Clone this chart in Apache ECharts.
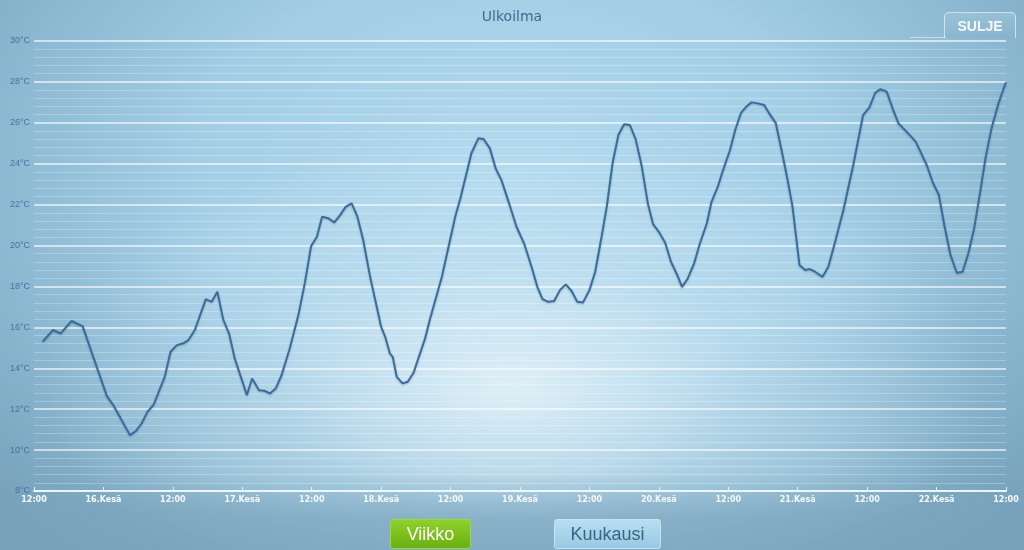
<!DOCTYPE html>
<html><head><meta charset="utf-8">
<script src="https://cdn.jsdelivr.net/npm/echarts@6/dist/echarts.min.js"></script>
<style>
html,body{margin:0;padding:0;width:1024px;height:550px;overflow:hidden;font-family:"Liberation Sans",Arial,sans-serif;}
body{background:
 linear-gradient(to bottom, rgba(122,164,189,0) 86%, rgba(122,164,189,0.65) 94%, rgba(122,164,189,0.75) 100%),
 radial-gradient(ellipse 470px 250px at 50% 70%, rgba(228,242,249,0.9) 0%, rgba(205,231,244,0.45) 50%, rgba(200,228,242,0) 100%),
 radial-gradient(ellipse 700px 470px at 50% 33%, #b3daef 0%, #a3cee6 45%, #8bb7d0 75%, #77a1ba 100%);}
#chart{position:absolute;left:0;top:0;width:1024px;height:550px;}
.btn{position:absolute;box-sizing:border-box;text-align:center;font-size:18px;line-height:28px;border-radius:3px;}
#viikko{left:390px;top:519px;width:81px;height:30px;background:linear-gradient(#8fd12a,#69b010);color:#fff;border:1px solid #9bd54a;}
#kuukausi{left:554px;top:519px;width:107px;height:30px;background:linear-gradient(#b9def0,#98c9e3);color:#3a6487;border:1px solid #c6e3f2;}
#sulje{position:absolute;left:944px;top:12px;width:72px;height:26px;box-sizing:border-box;border:1px solid rgba(235,245,250,0.7);border-bottom:none;border-radius:5px 5px 0 0;color:#f4f9fc;font-weight:bold;font-size:14px;text-align:center;line-height:26px;background:linear-gradient(rgba(160,200,222,0.6),rgba(130,175,200,0.3));}
#tabline{position:absolute;left:910px;top:37px;width:36px;height:1px;background:rgba(235,245,250,0.6);}
</style></head>
<body>
<div id="chart"></div>
<div id="sulje">SULJE</div>
<div id="tabline"></div>
<div id="viikko" class="btn">Viikko</div>
<div id="kuukausi" class="btn">Kuukausi</div>
<script>
// hours after 15.6. 12:00
const hours = [1.5,3.3,4.6,6.5,8.4,12.6,13.7,16.6,17.6,18.6,19.6,20.7,22.6,23.6,24.7,25.8,26.7,27.8,29.7,30.7,31.7,32.7,
33.7,34.7,36.8,37.7,38.9,39.8,40.8,41.8,42.8,44.2,45.7,46.8,47.9,48.9,49.8,50.9,51.9,52.9,53.9,54.9,55.9,56.9,58.1,60.0,60.7,61.5,62.0,62.7,63.7,64.6,65.6,67.6,
68.4,70.5,72.8,73.7,75.6,76.8,77.7,78.8,79.8,80.8,82.3,83.4,84.7,86.0,87.0,87.9,88.9,89.9,90.9,91.9,92.9,93.9,94.9,96.0,97.0,98.1,99.0,100.0,101.0,
102.0,103.0,104.0,105.0,106.1,107.0,108.1,109.1,110.1,111.1,112.0,113.0,114.1,115.1,116.3,117.1,118.2,119.1,120.3,121.2,122.2,123.0,124.0,125.1,126.2,127.2,128.2,129.2,130.2,131.1,132.3,133.3,134.1,135.0,
136.3,137.3,138.4,139.9,141.6,143.3,144.4,145.4,146.3,147.4,148.4,149.4,150.8,152.4,154.3,155.3,156.4,157.4,158.4,159.5,160.5,161.5,162.5,163.5,164.5,165.5,166.7,167.4,168.0];
const temps = [15.30,15.87,15.71,16.31,16.06,12.64,12.20,10.73,10.93,11.30,11.87,12.23,13.58,14.81,15.13,15.22,15.38,15.87,17.38,17.25,17.74,16.39,
15.71,14.48,12.69,13.50,12.93,12.90,12.77,13.02,13.67,14.97,16.60,18.15,19.98,20.43,21.41,21.33,21.13,21.49,21.90,22.06,21.41,20.27,18.47,16.03,15.54,14.73,14.56,13.58,13.26,13.34,13.78,15.46,
16.36,18.47,21.41,22.31,24.51,25.24,25.21,24.75,23.77,23.20,21.90,20.92,20.11,18.96,17.98,17.38,17.25,17.29,17.82,18.10,17.79,17.25,17.22,17.82,18.72,20.43,21.90,24.02,25.40,
25.93,25.89,25.19,23.94,22.06,21.05,20.63,20.14,19.21,18.61,17.98,18.39,19.13,20.11,21.09,22.14,22.88,23.69,24.67,25.65,26.49,26.76,27.00,26.95,26.87,26.41,26.00,24.67,23.29,21.90,19.05,18.80,18.85,18.72,
18.47,18.96,20.11,21.74,23.94,26.38,26.76,27.47,27.65,27.52,26.71,25.98,25.57,25.08,23.94,23.12,22.47,20.92,19.54,18.67,18.72,19.62,20.84,22.55,24.34,25.73,26.95,27.52,27.98];
const xLabels = ['12:00','16.Kesä','12:00','17.Kesä','12:00','18.Kesä','12:00','19.Kesä','12:00','20.Kesä','12:00','21.Kesä','12:00','22.Kesä','12:00'];
const yMin = 8, yMax = 30, yStep = 2;
const chartTitle = 'Ulkoilma';

const data = hours.map((h, i) => [h, temps[i]]);
const chart = echarts.init(document.getElementById('chart'), null, {renderer: 'canvas'});
chart.setOption({
  backgroundColor: 'transparent',
  animation: false,
  title: {text: chartTitle, left: 'center', top: 5, textStyle: {color: '#3d6b8f', fontSize: 14, fontWeight: 'normal', fontFamily: 'DejaVu Sans'}},
  grid: {left: 34, right: 18, top: 41, bottom: 59},
  xAxis: {
    type: 'value', min: 0, max: 168, interval: 12,
    axisLine: {show: true, lineStyle: {color: 'rgba(240,248,252,0.9)', width: 2}},
    axisTick: {show: true, inside: true, length: 4, lineStyle: {color: 'rgba(240,248,252,0.9)'}},
    splitLine: {show: false},
    axisLabel: {color: '#f4f9fc', fontSize: 8, fontWeight: 'bold', fontFamily: 'DejaVu Sans', margin: 5,
      formatter: v => xLabels[Math.round(v / 12)]}
  },
  yAxis: {
    type: 'value', min: yMin, max: yMax, interval: yStep,
    axisLine: {show: false}, axisTick: {show: false},
    axisLabel: {color: '#4274a3', fontSize: 9, fontFamily: 'Liberation Sans', margin: 4, formatter: v => v + '°C'},
    splitLine: {show: true, lineStyle: {color: 'rgba(255,255,255,0.8)', width: 1.5}},
    minorTick: {show: false, splitNumber: 5},
    minorSplitLine: {show: true, lineStyle: {color: 'rgba(255,255,255,0.25)', width: 1}}
  },
  series: [{
    type: 'line', data: data, showSymbol: false, smooth: false,
    lineStyle: {color: '#3b6c9b', width: 2, shadowColor: 'rgba(30,60,90,0.3)', shadowBlur: 2, shadowOffsetY: 1}
  }]
});
</script>
</body></html>
